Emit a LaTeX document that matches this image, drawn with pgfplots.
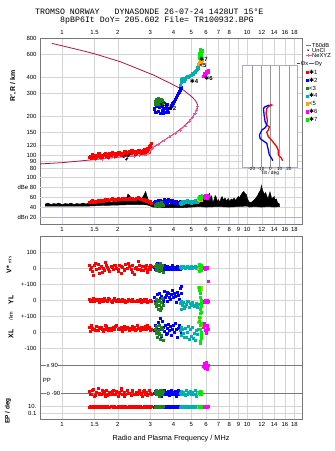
\documentclass[border=0pt]{standalone}
\usepackage{fontspec}
\setmainfont{Liberation Sans}
\newfontfamily\monofont{Liberation Mono}
\newfontfamily\symfont{DejaVu Sans}
\usepackage{pgfplots}
\usepackage{pgfplotstable}
\pgfplotsset{compat=1.18}

\definecolor{framegray}{RGB}{120,120,120}
\definecolor{gridgray}{RGB}{212,212,212}
\definecolor{nemaroon}{RGB}{176,20,70}
\definecolor{nepink}{RGB}{232,90,150}
\definecolor{cred}{RGB}{255,0,0}
\definecolor{cblue}{RGB}{0,0,255}
\definecolor{cgreen}{RGB}{30,130,30}
\definecolor{cteal}{RGB}{0,175,175}
\definecolor{corange}{RGB}{255,165,0}
\definecolor{cmag}{RGB}{255,0,255}
\definecolor{clime}{RGB}{0,235,0}
\definecolor{dbnline}{RGB}{175,175,225}
\definecolor{insetframe}{RGB}{170,170,200}
\definecolor{insetgrid}{RGB}{150,150,150}

\newcommand\fs[1]{\fontsize{#1}{#1}\selectfont}
\newcommand\sta{{\symfont ✱}}

% echoes: frequency, virtual height, amplitude, V*, YL, XL, polarization, EP
\pgfplotstableread{
f h a v yl xl pp ep
1.40 97 51 20 5 30 -80 10
1.42 99 50 -10 -5 5 -100 12
1.44 96 52 5 0 40 -95 9
1.47 98 51 -45 10 15 -65 11
1.50 100 53 15 -10 20 -110 10
1.53 97 52 -5 5 35 -85 13
1.56 99 54 25 0 10 -60 8
1.59 101 53 -35 -15 25 -95 10
1.62 98 54 10 5 30 -100 12
1.66 100 53 0 -5 5 -80 9
1.69 102 55 -15 10 20 -90 11
1.73 99 54 20 0 35 -70 10
1.76 101 56 5 -10 15 -105 12
1.80 103 55 -20 5 25 -85 9
1.84 100 57 10 -5 10 -95 11
1.88 102 56 -5 0 30 -75 10
1.92 104 57 15 10 20 -100 12
1.96 101 56 0 -5 40 -80 9
2.00 103 58 -10 5 15 -110 10
2.04 105 57 20 -10 25 -90 11
2.08 102 57 -30 0 20 -70 10
2.12 104 58 5 5 5 -95 12
2.16 106 57 -15 -5 35 -85 9
2.20 103 56 25 -15 20 -100 11
2.25 105 57 0 -5 30 -75 10
2.30 107 58 10 0 10 -90 12
2.35 104 57 -5 -10 25 -105 10
2.40 106 58 15 5 15 -80 9
2.45 108 57 -40 -5 30 -95 11
2.50 105 59 5 -10 20 -85 10
2.55 107 58 -10 0 40 -100 12
2.60 109 59 20 -5 25 -70 10
2.65 106 57 -5 5 10 -90 11
2.70 108 56 10 -10 30 -110 9
2.75 110 55 -15 0 20 -80 10
2.80 107 54 0 -5 35 -95 12
2.85 111 53 15 5 15 -85 10
2.90 113 52 -25 -15 25 -100 11
2.95 116 51 5 -5 30 -75 9
3.00 120 50 -10 0 10 -90 10
3.03 124 49 10 -10 20 -95 11
1.45 101 54 -20 -10 25 -70 12
1.51 96 51 30 0 10 -105 9
1.58 103 55 0 5 30 -90 11
1.64 97 53 -25 -10 20 -75 10
1.71 104 56 35 0 40 -110 12
1.78 98 54 -10 10 10 -95 9
1.86 105 58 5 -15 25 -80 11
1.94 99 55 20 0 35 -100 10
2.02 106 59 -20 5 20 -85 12
2.10 100 56 10 -10 30 -60 9
2.18 108 59 -5 0 15 -110 11
2.28 102 56 30 5 25 -90 10
2.38 109 59 -25 -10 35 -75 12
2.48 103 57 0 -5 10 -100 9
2.58 110 60 45 0 25 -85 11
2.68 104 57 -15 -15 30 -95 10
2.78 112 56 10 5 20 -70 12
2.88 108 54 -5 -5 40 -105 9
2.98 118 52 20 -10 15 -90 11
}\modeone

\pgfplotstableread{
f h a v yl xl pp ep
3.15 228 50 5 20 10 -90 10
3.20 215 52 -10 -5 40 -80 12
3.25 240 48 15 35 -10 -100 9
3.30 220 54 0 0 60 -85 11
3.35 235 51 -5 45 20 -95 10
3.40 212 55 10 10 85 -70 12
3.45 245 49 -15 25 -25 -110 9
3.50 222 53 5 -10 30 -90 11
3.55 232 56 20 55 5 -75 10
3.60 216 52 -10 15 45 -100 12
3.65 238 50 0 30 -15 -85 9
3.70 224 54 10 -5 25 -95 11
3.75 214 57 -5 40 50 -80 10
3.80 230 53 5 20 10 -105 12
3.84 232 55 -10 5 35 -90 9
3.90 242 51 0 35 -20 -70 11
3.95 250 54 15 60 15 -100 10
4.00 254 50 -5 15 40 -85 12
4.05 262 52 5 45 0 -95 9
4.10 272 49 -10 25 55 -80 11
4.15 281 53 0 -15 20 -110 10
4.20 291 51 10 50 -30 -90 12
4.25 300 48 -5 30 25 -75 9
4.31 309 50 5 5 45 -100 11
4.35 318 52 -10 73 10 -85 10
4.38 328 49 0 40 -5 -95 12
4.42 335 51 5 85 20 -90 10
3.28 248 50 30 0 15 -95 10
3.48 240 52 -10 -15 65 -85 11
3.68 248 49 5 50 -10 -100 10
3.52 212 51 0 5 30 -80 9
}\modetwo

\pgfplotstableread{
f h a v yl xl pp ep
3.18 250 45 10 -20 20 -85 10
3.21 262 47 -15 5 -10 -100 12
3.24 270 44 25 -40 35 -75 9
3.27 255 48 -5 -10 -30 -95 11
3.30 276 46 15 -55 10 -80 10
3.33 248 43 -20 0 45 -110 12
3.36 266 49 5 -30 -5 -90 9
3.39 258 45 30 -65 -45 -70 11
3.42 272 47 -10 -15 25 -100 10
3.45 252 50 0 -45 -20 -85 12
3.48 264 46 20 10 15 -95 9
3.51 258 44 -25 -35 -50 -80 11
3.22 258 46 0 -25 5 -90 10
3.35 260 45 10 -5 -15 -105 10
3.44 268 48 -5 -50 30 -75 11
}\modethree

\pgfplotstableread{
f h a v yl xl pp ep
4.36 348 48 5 -20 10 -90 10
4.40 365 50 10 -10 30 -100 12
4.43 385 47 0 -55 -20 -80 9
4.47 392 52 5 -30 20 -95 11
4.52 380 49 10 -15 -10 -85 10
4.60 390 53 0 -40 25 -105 12
4.68 398 51 5 -25 -30 -75 9
4.76 405 54 10 -10 0 -95 11
4.84 408 50 0 -45 -45 -90 10
4.92 412 52 5 -20 15 -80 12
5.00 415 49 10 -35 -25 -100 9
5.08 425 53 0 -15 30 -85 11
5.16 435 51 5 -40 -5 -95 10
5.24 441 55 10 -30 -50 -70 12
5.30 452 52 0 -20 10 -110 9
5.36 462 50 5 -45 -15 -90 11
5.42 472 53 0 -25 20 -85 10
4.56 372 50 8 -50 -35 -95 10
4.80 400 52 3 -5 35 -85 11
5.12 430 51 7 -35 -40 -100 10
}\modefour

\pgfplotstableread{
f h a v yl xl pp ep
5.46 505 56 -5 83 60 -90 10
5.52 520 54 0 70 75 -85 11
5.58 535 57 -10 55 90 -95 9
5.64 512 55 5 78 -40 -80 12
5.68 540 56 0 65 45 -100 10
}\modefive

\pgfplotstableread{
f h a v yl xl pp ep
5.80 405 60 5 -5 30 85 10
5.85 412 63 0 -15 55 100 12
5.90 420 58 5 0 10 70 9
5.95 428 65 -5 -10 40 95 11
6.00 433 61 5 -5 -5 105 10
6.05 440 64 0 -15 25 80 12
6.10 446 59 5 0 45 60 9
6.15 454 62 -85 -10 15 90 11
5.88 424 60 3 -8 50 75 10
6.02 444 63 2 -12 5 100 11
6.12 438 58 0 -3 35 85 10
}\modesix

\pgfplotstableread{
f h a v yl xl pp ep
5.50 560 58 25 80 95 -90 10
5.53 575 60 -20 60 70 -85 11
5.56 590 57 10 40 40 -95 9
5.59 600 61 -5 20 20 -80 12
5.62 615 59 15 0 0 -100 10
5.65 625 62 -15 -20 -20 -90 11
5.68 640 60 5 -40 -40 -85 9
5.55 605 58 0 -60 -55 -95 10
5.60 585 59 -10 -80 -70 -90 11
5.63 630 61 20 -75 55 -100 10
5.58 648 60 -5 -50 -65 -85 12
}\modeseven

% total amplitude envelope (upper edge, then lower edge back)
\pgfplotstableread{
f a
0.81 47
0.84 49
0.87 46
0.90 48
0.93 47
0.96 49
1.00 46
1.04 48
1.08 47
1.12 49
1.16 46
1.20 48
1.25 47
1.30 49
1.35 47
1.40 50
1.48 49
1.56 51
1.65 50
1.75 52
1.85 51
1.95 53
2.05 52
2.15 54
2.22 56
2.27 67
2.32 63
2.38 58
2.45 54
2.55 55
2.65 57
2.72 60
2.78 66
2.83 72
2.87 64
2.92 56
2.98 50
3.05 48
3.15 47
3.30 49
3.45 47
3.60 48
3.75 46
3.90 48
4.05 47
4.20 49
4.35 48
4.50 50
4.65 47
4.80 49
4.95 48
5.10 51
5.25 53
5.40 58
5.50 64
5.60 61
5.70 66
5.80 58
5.90 62
6.00 54
6.10 57
6.20 66
6.28 68
6.36 56
6.44 63
6.52 50
6.62 55
6.72 64
6.82 60
6.92 52
7.02 56
7.12 50
7.22 58
7.32 62
7.45 55
7.60 59
7.75 53
7.90 58
8.05 52
8.20 57
8.35 55
8.50 59
8.65 54
8.80 58
8.95 62
9.10 60
9.30 66
9.45 70
9.60 72
9.75 68
9.90 66
10.05 58
10.20 52
10.40 50
10.60 51
10.80 54
11.00 56
11.20 60
11.40 64
11.60 70
11.80 74
11.95 84
12.05 78
12.20 72
12.40 66
12.60 70
12.80 62
13.00 58
13.15 66
13.30 71
13.45 64
13.60 57
13.80 60
14.00 62
14.20 55
14.40 57
14.60 50
14.80 48
15.00 47
15.00 42
14.00 41
13.00 42
12.00 41
11.00 42
10.30 41
10.00 43
9.00 42
8.00 41
7.00 42
6.00 41
5.50 42
5.00 41
4.50 40
4.00 40
3.50 40
3.10 41
3.00 43
2.90 45
2.70 46
2.40 46
2.00 45
1.60 44
1.40 43
1.20 43
1.00 43
0.81 43
}\noise

\newcommand\echoes[2]{%
  \addplot[only marks, mark=square*, mark size=1bp, #1] table[x=f,y expr={151+0.16*\thisrow{v}}]{#2};
  \addplot[only marks, mark=square*, mark size=1bp, #1] table[x=f,y expr={119+0.16*\thisrow{yl}}]{#2};
  \addplot[only marks, mark=square*, mark size=1bp, #1] table[x=f,y expr={87+0.16*\thisrow{xl}}]{#2};
  \addplot[only marks, mark=square*, mark size=1bp, #1] table[x=f,y expr={40+0.15556*\thisrow{pp}}]{#2};
  \addplot[only marks, mark=square*, mark size=1bp, #1] table[x=f,y expr={9.15+3.15*log10(\thisrow{ep})}]{#2};
}

\begin{document}
\begin{tikzpicture}
\path[use as bounding box, fill=white] (0bp,0bp) rectangle (335bp,451bp);

% ---------------- height panel ----------------
\begin{axis}[at={(40bp,227bp)}, anchor=south west,
  scale only axis, width=262bp, height=186bp,
  xmode=log, ymode=log, xmin=0.76, xmax=19.8, ymin=29.7, ymax=800,
  xtick={1,1.5,2,3,4,5,6,7,8,9,10,12,14,16,18},
  xticklabels={1,1.5,2,3,4,5,6,7,8,,10,12,14,16,18}, xticklabel pos=right,
  ytick={80,90,100,120,150,200,300,400,600,800},
  yticklabels={80,90,100,120,150,200,300,400,600,800},
  major tick length=0pt, minor tick length=0pt,
  tick label style={font=\fs{6}},
  axis line style={framegray, line width=0.7bp},
  grid style={gridgray, line width=0.5bp},
  xmajorgrids, ymajorgrids, clip mode=individual,
  ylabel={R', R / km},
  ylabel style={font=\bfseries\fs{7}, at={(axis description cs:-0.103,0.742)}, anchor=center},
  legend style={at={(rel axis cs:1.0115,0.976)}, anchor=north west, draw=none, fill=none,
    font=\fs{5.8}, inner sep=0pt, row sep=0pt, cells={anchor=west},
    nodes={inner sep=0.3bp, text height=4.2bp, text depth=0.2bp}},
]
\addlegendimage{legend image code/.code={\draw[gray, line width=0.7bp] (0bp,0bp) -- (5bp,0bp);}}
\addlegendentry{T60dB}
\addlegendimage{legend image code/.code={\fill[black] (2.5bp,0bp) circle (0.5bp);}}
\addlegendentry{UnCl}
\addlegendimage{legend image code/.code={\draw[nepink, line width=0.6bp] (0bp,0bp) -- (6bp,0bp) (3bp,-1.5bp) -- (3bp,1.5bp);}}
\addlegendentry{NeXYZ}

% electron density profile
\addplot[nemaroon, line width=0.8bp] table {
f h
0.88 728
1.20 655
1.51 603
2.06 526
2.53 468
3.12 415
3.84 359
4.53 318
5.02 283
5.28 262
5.40 245
5.39 230
5.24 211
4.92 187
4.53 166
4.08 148
3.68 135
3.25 120
3.05 113.5
2.99 103
2.42 99
1.98 97
1.51 93
1.00 88
0.76 86
};
\addplot[nepink, line width=0.5bp, mark=+, mark size=1.6bp] table {
f h
1.52 93
1.64 94
1.78 95
1.92 96
2.45 99
2.62 100
2.82 101
3.08 114
3.30 121
3.55 130
3.80 139
4.08 148
4.35 157
4.62 169
4.88 184
5.08 197
5.23 210
5.33 224
5.39 238
};
\addplot[only marks, mark=square*, mark size=1.2bp, cred] table[x=f,y=h]{\modeone};
\addplot[only marks, mark=square*, mark size=1.2bp, cblue] table[x=f,y=h]{\modetwo};
\addplot[only marks, mark=square*, mark size=1.2bp, cgreen] table[x=f,y=h]{\modethree};
\addplot[only marks, mark=square*, mark size=1.2bp, cteal] table[x=f,y=h]{\modefour};
\addplot[only marks, mark=square*, mark size=1.2bp, cmag] table[x=f,y=h]{\modesix};
\addplot[only marks, mark=square*, mark size=1.2bp, corange] table[x=f,y=h]{\modefive};
\addplot[only marks, mark=square*, mark size=1.2bp, clime] table[x=f,y=h]{\modeseven};
% unclassified echoes
\addplot[only marks, mark=*, mark size=0.8bp, black] table {
f h
2.15 97
2.20 100
2.25 95
2.28 99
2.32 102
2.22 93
};
\node[font=\bfseries\fs{6}, inner sep=0pt] at (axis cs:3.52,248) {<3};
\node[font=\bfseries\fs{6}, inner sep=0pt] at (axis cs:3.93,230) {\sta2};
\node[font=\bfseries\fs{6}, inner sep=0pt] at (axis cs:5.17,373) {\sta4};
\node[font=\bfseries\fs{6}, inner sep=0pt] at (axis cs:5.78,492) {<5};
\node[font=\bfseries\fs{6}, inner sep=0pt] at (axis cs:6.19,390) {\sta6};
\node[font=\bfseries\fs{6}, inner sep=0pt] at (axis cs:5.82,551) {\sta7};
\end{axis}

% ---------------- tilt inset ----------------
\begin{axis}[at={(242bp,284bp)}, anchor=south west, scale only axis, width=55.7bp, height=102bp,
  xmin=-30.5, xmax=29.5, ymode=log, ymin=81.5, ymax=496, ytick=\empty,
  xtick={-20,-10,0,10,20}, xticklabels={-20,-10,0,10,20},
  major tick length=0pt, xmajorgrids, grid style={insetgrid, line width=0.5bp},
  axis line style={insetframe, line width=0.8bp},
  axis background/.style={fill=white},
  xticklabel style={font=\fs{4.6}, inner sep=0.6bp},
  xlabel={Tilt / deg}, xlabel style={font=\fs{4.8}, inner sep=0pt, yshift=1bp},
  legend style={at={(rel axis cs:0.969,1.044)}, anchor=north west, draw=none, fill=none,
    font=\fs{5.8}, inner sep=0pt, nodes={inner sep=0.4bp}},
]
\addlegendimage{legend image code/.code={\draw[nemaroon, line width=0.8bp] (0bp,0bp) -- (3.5bp,0bp);}}
\addlegendentry{Θx\,\textcolor{cblue!70}{\rule[1.6bp]{4.5bp}{0.8bp}}\,Θy}
\addplot[cred, line width=1.3bp] table {
t h
-0.3 247
1.5 244
-2.1 237
-3.8 230
-4.6 211
-3.2 187
-3.8 171
-1.1 166
-2.1 157
-3.8 151
-2.1 139
1.5 131
3.2 126
6.8 117
8.5 110
8.5 101
12.1 95
13.2 91
};
\addplot[cblue, line width=1.3bp] table {
t h
-1.1 244
-5.6 237
-7.4 230
-6.7 205
-5.6 182
-3.8 171
-5.6 163
-9.1 157
-11.7 144
-11.0 135
-7.4 129
-3.8 124
-2.1 110
-1.1 101
1.5 95
2.6 91
};
\end{axis}

% ---------------- amplitude strip ----------------
\begin{axis}[at={(40bp,227bp)}, anchor=south west,
  scale only axis, width=262bp, height=186bp,
  xmode=log, xmin=0.76, xmax=19.8, ymin=7.5, ymax=375.8,
  xtick={1,1.5,2,3,4,5,6,7,8,9,10,12,14,16,18},
  xticklabels={1,1.5,2,3,4,5,6,7,8,9,10,12,14,16,18}, xticklabel pos=left,
  ytick={20,40,60,80,100}, yticklabels={dBn 20,40,60,dBe 80,100},
  major tick length=0pt, minor tick length=0pt,
  tick label style={font=\fs{6}},
  axis line style={draw=none},
  ymajorgrids, grid style={gridgray, line width=0.5bp},
  legend style={at={(rel axis cs:1.0134,0.832)}, anchor=north west, draw=none, fill=none,
    font=\fs{6}, inner sep=0pt, row sep=2bp, cells={anchor=west},
    nodes={inner sep=0.5bp, text height=4.3bp, text depth=0.6bp}},
]
\addlegendimage{legend image code/.code={\fill[cred] (0bp,-1.3bp) rectangle (2.6bp,1.3bp);}}
\addlegendentry{\sta1}
\addlegendimage{legend image code/.code={\fill[cblue] (0bp,-1.3bp) rectangle (2.6bp,1.3bp);}}
\addlegendentry{\sta2}
\addlegendimage{legend image code/.code={\fill[cgreen] (0bp,-1.3bp) rectangle (2.6bp,1.3bp);}}
\addlegendentry{<3}
\addlegendimage{legend image code/.code={\fill[cteal] (0bp,-1.3bp) rectangle (2.6bp,1.3bp);}}
\addlegendentry{\sta4}
\addlegendimage{legend image code/.code={\fill[corange] (0bp,-1.3bp) rectangle (2.6bp,1.3bp);}}
\addlegendentry{<5}
\addlegendimage{legend image code/.code={\fill[cmag] (0bp,-1.3bp) rectangle (2.6bp,1.3bp);}}
\addlegendentry{\sta6}
\addlegendimage{legend image code/.code={\fill[clime] (0bp,-1.3bp) rectangle (2.6bp,1.3bp);}}
\addlegendentry{\sta7}

% noise floor line
\draw[dbnline, line width=0.6bp] (axis cs:0.76,20) -- (axis cs:19.8,20);
\addplot[fill=black, draw=black, line width=0.4bp] table[x=f,y=a]{\noise};
\addplot[only marks, mark=square*, mark size=1bp, cred] table[x=f,y=a]{\modeone};
\addplot[only marks, mark=square*, mark size=1bp, cblue] table[x=f,y=a]{\modetwo};
\addplot[only marks, mark=square*, mark size=1bp, cgreen] table[x=f,y=a]{\modethree};
\addplot[only marks, mark=square*, mark size=1bp, cteal] table[x=f,y=a]{\modefour};
\addplot[only marks, mark=square*, mark size=1bp, cmag] table[x=f,y=a]{\modesix};
\addplot[only marks, mark=square*, mark size=1bp, corange] table[x=f,y=a]{\modefive};
\addplot[only marks, mark=square*, mark size=1bp, clime] table[x=f,y=a]{\modeseven};
\end{axis}

% ---------------- drift velocity, location, polarization, error ----------------
\begin{axis}[at={(40bp,32bp)}, anchor=south west,
  scale only axis, width=262bp, height=183bp,
  xmode=log, xmin=0.76, xmax=19.8, ymin=0, ymax=183,
  xtick={1,1.5,2,3,4,5,6,7,8,9,10,12,14,16,18},
  xticklabels={1,1.5,2,3,4,5,6,7,8,9,10,12,14,16,18},
  ytick={6,12.3,71,87,103,119,135,151,167},
  yticklabels={0.1,10.,-100,0,+-100,0,+-100,0,100},
  major tick length=0pt, minor tick length=0pt,
  tick label style={font=\fs{6}},
  axis line style={framegray, line width=0.7bp},
  grid style={gridgray, line width=0.5bp},
  xmajorgrids, ymajorgrids, clip mode=individual,
  xlabel={Radio and Plasma Frequency / MHz},
  xlabel style={font=\fs{7.3}, at={(axis description cs:0.5,0)}, anchor=center, yshift=-20bp},
]
\draw[framegray, line width=0.6bp] (axis cs:0.76,54) -- (axis cs:19.8,54);
\draw[framegray, line width=0.6bp] (axis cs:0.76,26) -- (axis cs:19.8,26);
\echoes{cred}{\modeone}
\echoes{cblue}{\modetwo}
\echoes{cgreen}{\modethree}
\echoes{cteal}{\modefour}
\echoes{cmag}{\modesix}
\echoes{corange}{\modefive}
\echoes{clime}{\modeseven}
\node[rotate=90, font=\bfseries\fs{7}] at (axis description cs:-0.118,0.842) {V* {\mdseries\fs{4.5}m/s}};
\node[rotate=90, font=\bfseries\fs{7}] at (axis description cs:-0.111,0.650) {YL};
\node[rotate=90, font=\fs{5.5}] at (axis description cs:-0.111,0.563) {/km};
\node[rotate=90, font=\bfseries\fs{7}] at (axis description cs:-0.111,0.465) {XL};
\node[font=\fs{6}, anchor=west, fill=white, inner sep=0.6bp] at (axis description cs:0.022,0.295) {x 90};
\node[font=\fs{6}, anchor=west, fill=white, inner sep=0.6bp] at (axis description cs:0.022,0.142) {o -90};
\node[font=\fs{6}] at (axis description cs:0.026,0.213) {PP};
\node[rotate=90, font=\bfseries\fs{6.5}] at (axis description cs:-0.122,0.044) {EP / deg};
\end{axis}

% ---------------- heading ----------------
\node[anchor=base west, font=\monofont\fs{8.3}, inner sep=0pt] at (35bp,436bp) {TROMSO NORWAY\ \ \ DYNASONDE 26-07-24 1428UT 15°E};
\node[anchor=base west, font=\monofont\fs{8.3}, inner sep=0pt] at (60bp,428.3bp) {8pBP6It DoY= 205.602 File= TR100932.BPG};
\end{tikzpicture}
\end{document}
